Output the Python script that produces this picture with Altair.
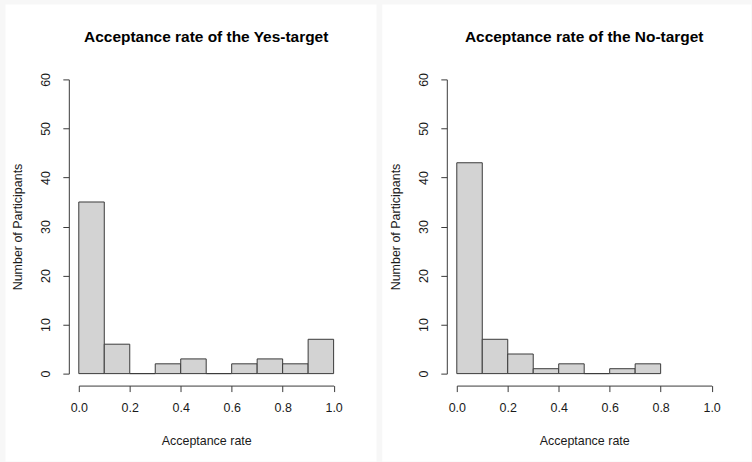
import altair as alt
import pandas as pd

# Histogram counts per 0.1-wide bin of acceptance rate
yes_counts = [35, 6, 0, 2, 3, 0, 2, 3, 2, 7]
no_counts = [43, 7, 4, 1, 2, 0, 1, 2]
bin_width = 0.1

x_ticks = [0.0, 0.2, 0.4, 0.6, 0.8, 1.0]
y_ticks = [0, 10, 20, 30, 40, 50, 60]

yes_title = "Acceptance rate of the Yes-target"
no_title = "Acceptance rate of the No-target"
x_label = "Acceptance rate"
y_label = "Number of Participants"

FONT = "Liberation Sans"
INK = "#1a1a1a"
LINE = "#3a3a3a"
PLOT_W = 255.5
PLOT_H = 295


def bins_frame(counts):
    return pd.DataFrame({
        "start": [round(i * bin_width, 2) for i in range(len(counts))],
        "end": [round((i + 1) * bin_width, 2) for i in range(len(counts))],
        "count": counts,
        "base": [0] * len(counts),
    })


def panel(counts, title, left_pad, right_edge):
    one_row = pd.DataFrame({"label": [title]})

    # white card behind the panel
    card = alt.Chart(one_row).mark_rect(
        fill="white", strokeWidth=0, clip=False
    ).encode(
        x=alt.value(-left_pad), x2=alt.value(right_edge),
        y=alt.value(-75), y2=alt.value(383),
    )

    # panel heading, kept inside the card
    heading = alt.Chart(one_row).mark_text(
        font=FONT, fontSize=15.5, fontWeight="bold", color="black",
        align="center", baseline="alphabetic",
    ).encode(
        text="label:N", x=alt.value(PLOT_W / 2), y=alt.value(-37.5),
    )

    bars = alt.Chart(bins_frame(counts)).mark_rect(
        fill="#d3d3d3", stroke=LINE, strokeWidth=1
    ).encode(
        x=alt.X(
            "start:Q",
            scale=alt.Scale(domain=[0, 1], nice=False, zero=False),
            axis=alt.Axis(
                values=x_ticks, format=".1f", title=x_label, grid=False,
                offset=12, tickSize=6, labelPadding=10, titlePadding=21,
                domainColor=LINE, tickColor=LINE, labelColor=INK,
                titleColor=INK, labelFont=FONT, titleFont=FONT,
                labelFontSize=12.5, titleFontSize=12.5, titleFontWeight="normal",
                labelFlush=False, zindex=1,
            ),
        ),
        x2="end:Q",
        y=alt.Y(
            "count:Q",
            scale=alt.Scale(domain=[0, 60], nice=False),
            axis=alt.Axis(
                values=y_ticks, title=y_label, grid=False,
                offset=10, tickSize=6, labelAngle=270, labelAlign="center",
                labelBaseline="bottom", labelPadding=10, titlePadding=15,
                domainColor=LINE, tickColor=LINE, labelColor=INK,
                titleColor=INK, labelFont=FONT, titleFont=FONT,
                labelFontSize=12.5, titleFontSize=12.5, titleFontWeight="normal",
                labelFlush=False, zindex=1,
            ),
        ),
        y2="base:Q",
    )

    return alt.layer(card, heading, bars).properties(width=PLOT_W, height=PLOT_H)


left = panel(yes_counts, yes_title, 73.5, 298.5)
right = panel(no_counts, no_title, 74.7, 295.3)

chart = alt.hconcat(left, right, spacing=5).properties(
    background="#f7f7f7",
    padding={"left": 5, "top": 4, "right": 0, "bottom": 0},
).configure_view(strokeWidth=0)

chart.save("out.html", embed_options={"renderer": "svg", "actions": False})
